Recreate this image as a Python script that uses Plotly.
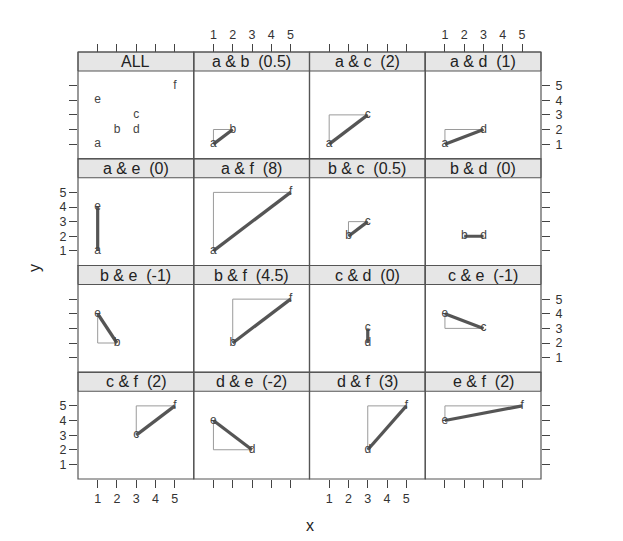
import plotly.graph_objects as go
from itertools import combinations

# ---- data ----
labels = ['a', 'b', 'c', 'd', 'e', 'f']
xs = [1, 2, 3, 3, 1, 5]
ys = [1, 2, 3, 2, 4, 5]
tick_vals = [1, 2, 3, 4, 5]

pairs = list(combinations(range(6), 2))
covs = [(xs[i] - xs[j]) * (ys[i] - ys[j]) / 2 for i, j in pairs]
strip_titles = ['ALL'] + ['%s & %s  (%g)' % (labels[i], labels[j], v) for (i, j), v in zip(pairs, covs)]

# ---- layout geometry ----
W, H = 623, 541
L, R, T, B = 78, 541, 52, 479
STRIP = 19
xe = [L + (R - L) * k / 4 for k in range(5)]
ye = [T + (B - T) * k / 4 for k in range(5)]
XR = [-0.02, 5.98]
YR = [0.0, 6.0]

FONT = 'Liberation Sans, Arial, sans-serif'
TICKC = '#444'
TXT = '#333'
TICKFS = 12.5

fig = go.Figure()
layout = dict(width=W, height=H, margin=dict(l=0, r=0, t=0, b=0),
              paper_bgcolor='white', plot_bgcolor='rgba(0,0,0,0)',
              showlegend=False, font=dict(family=FONT, size=12, color=TXT))
shapes = []
annotations = []

for k in range(16):
    r, c = divmod(k, 4)
    n = k + 1
    xa = 'xaxis' if n == 1 else 'xaxis%d' % n
    ya = 'yaxis' if n == 1 else 'yaxis%d' % n
    xref = 'x' if n == 1 else 'x%d' % n
    yref = 'y' if n == 1 else 'y%d' % n

    xdict = dict(domain=[xe[c] / W, xe[c + 1] / W], range=XR, anchor=yref,
                 showgrid=False, zeroline=False, showline=False, fixedrange=True,
                 tickvals=tick_vals, ticks='', showticklabels=False)
    ydict = dict(domain=[1 - ye[r + 1] / H, 1 - (ye[r] + STRIP) / H], range=YR, anchor=xref,
                 showgrid=False, zeroline=False, showline=False, fixedrange=True,
                 tickvals=tick_vals, ticks='', showticklabels=False)
    if r == 3:
        xdict.update(ticks='outside', ticklen=8, tickcolor=TICKC, tickwidth=1,
                     showticklabels=(c % 2 == 0), side='bottom',
                     tickfont=dict(size=TICKFS, color=TXT))
    if c == 0:
        ydict.update(ticks='outside', ticklen=8, tickcolor=TICKC, tickwidth=1,
                     showticklabels=(r % 2 == 1), side='left',
                     tickfont=dict(size=TICKFS, color=TXT))
    if c == 3:
        ydict.update(ticks='outside', ticklen=8, tickcolor=TICKC, tickwidth=1,
                     showticklabels=(r % 2 == 0), side='right',
                     tickfont=dict(size=TICKFS, color=TXT), ticklabelstandoff=3)
    layout[xa] = xdict
    layout[ya] = ydict

    if k == 0:
        fig.add_trace(go.Scatter(x=xs, y=ys, text=labels, mode='text',
                                 textfont=dict(size=12, color='#444', family=FONT),
                                 xaxis=xref, yaxis=yref, hoverinfo='skip'))
    else:
        i, j = pairs[k - 1]
        lft, rgt = (i, j) if xs[i] <= xs[j] else (j, i)
        fig.add_trace(go.Scatter(x=[xs[lft], xs[lft], xs[rgt]], y=[ys[lft], ys[rgt], ys[rgt]],
                                 mode='lines', line=dict(color='#9a9a9a', width=1),
                                 xaxis=xref, yaxis=yref, hoverinfo='skip'))
        fig.add_trace(go.Scatter(x=[xs[i], xs[j]], y=[ys[i], ys[j]],
                                 mode='lines', line=dict(color='#555', width=3.2),
                                 xaxis=xref, yaxis=yref, hoverinfo='skip'))
        fig.add_trace(go.Scatter(x=[xs[i], xs[j]], y=[ys[i], ys[j]], text=[labels[i], labels[j]],
                                 mode='text', textfont=dict(size=12, color='#444', family=FONT),
                                 xaxis=xref, yaxis=yref, hoverinfo='skip'))

    # strip
    shapes.append(dict(type='rect', xref='paper', yref='paper',
                       x0=xe[c] / W, x1=xe[c + 1] / W,
                       y0=1 - (ye[r] + STRIP) / H, y1=1 - ye[r] / H,
                       fillcolor='#e6e6e6', line=dict(color='#555', width=1), layer='below'))
    # panel border
    shapes.append(dict(type='rect', xref='paper', yref='paper',
                       x0=xe[c] / W, x1=xe[c + 1] / W,
                       y0=1 - ye[r + 1] / H, y1=1 - ye[r] / H,
                       fillcolor='rgba(0,0,0,0)', line=dict(color='#555', width=1.2), layer='above'))
    annotations.append(dict(xref='paper', yref='paper', x=(xe[c] + xe[c + 1]) / 2 / W,
                            y=1 - (ye[r] + STRIP / 2) / H, text=strip_titles[k], showarrow=False,
                            font=dict(size=16, color='#222', family=FONT),
                            xanchor='center', yanchor='middle'))

# top tick axes above the strips
for c in range(4):
    n = 17 + c
    layout['xaxis%d' % n] = dict(domain=[xe[c] / W, xe[c + 1] / W], range=XR, anchor='free',
                                 position=1 - T / H, side='top', showgrid=False, zeroline=False,
                                 showline=False, fixedrange=True, tickvals=tick_vals,
                                 ticks='outside', ticklen=8, tickcolor=TICKC, tickwidth=1,
                                 showticklabels=(c % 2 == 1), tickfont=dict(size=TICKFS, color=TXT))
    fig.add_trace(go.Scatter(x=[3], y=[3], mode='markers', marker=dict(opacity=0),
                             xaxis='x%d' % n, yaxis='y', hoverinfo='skip'))

annotations.append(dict(xref='paper', yref='paper', x=(L + R) / 2 / W, y=1 - 525 / H, text='x',
                        showarrow=False, font=dict(size=16, color='#222', family=FONT),
                        xanchor='center', yanchor='middle'))
annotations.append(dict(xref='paper', yref='paper', x=34 / W, y=1 - 268 / H, text='y',
                        showarrow=False, font=dict(size=16, color='#222', family=FONT),
                        xanchor='center', yanchor='middle', textangle=-90))

layout['shapes'] = shapes
layout['annotations'] = annotations
fig.update_layout(**layout)
fig.write_html('out.html')
